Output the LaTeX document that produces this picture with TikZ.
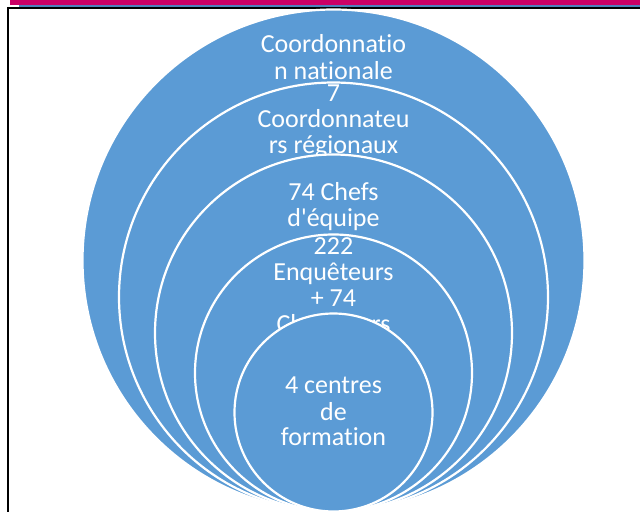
\documentclass[tikz,border=0pt]{standalone}
\usepackage{fontspec}
\newfontfamily\ringfont{Carlito}[Ligatures={NoCommon}]
\definecolor{ringblue}{HTML}{5B9BD5}
\definecolor{barmagenta}{HTML}{CC0066}
\definecolor{barblue}{HTML}{4F81BD}
\begin{document}
\begin{tikzpicture}[x=1pt,y=1pt,
  ringdisc/.style={circle, fill=ringblue, draw=white, line width=2.2pt, inner sep=0pt},
  ringtext/.style={text=white, font=\ringfont\fontsize{26}{26}\selectfont, anchor=base, inner sep=0pt}]
\useasboundingbox (0,0) rectangle (640,512);
\begin{scope}
\clip (0,0) rectangle (640,512);
% page header rules
\fill[barmagenta] (10,512) rectangle (640,506.5);
\fill[barblue] (19,506.5) rectangle (640,505);
\draw[black, line width=1.6pt] (8,504) -- (640,504);
\draw[black, line width=1.6pt] (8,505) -- (8,0);
% stacked discs, all touching at the bottom
\node[ringdisc, minimum size=502pt] (c1) at (333.5,251.5) {};
\node[ringtext] (t1a) at (333.5,459) {Coordonnatio};
\node[ringtext] (t1b) at (333.5,432) {n nationale};
\node[ringdisc, minimum size=429pt] (c2) at (333.5,215) {};
\node[ringtext] (t2a) at (333.5,410) {7};
\node[ringtext] (t2b) at (333.5,384) {Coordonnateu};
\node[ringtext] (t2c) at (333.5,358) {rs régionaux};
\node[ringdisc, minimum size=357pt] (c3) at (333.5,179) {};
\node[ringtext] (t3a) at (333.5,311) {74 Chefs};
\node[ringtext] (t3b) at (333.5,285) {d'équipe};
\node[ringdisc, minimum size=277pt] (c4) at (333.5,139) {};
\node[ringtext] (t4a) at (333.5,257) {222};
\node[ringtext] (t4b) at (333.5,231) {Enquêteurs};
\node[ringtext] (t4c) at (333.5,205) {+ 74};
\node[ringtext] (t4d) at (333.5,179) {Chauffeurs};
\node[ringdisc, minimum size=198pt] (c5) at (333.5,99.5) {};
\node[ringtext] (t5a) at (333.5,119) {4 centres};
\node[ringtext] (t5b) at (333.5,92) {de};
\node[ringtext] (t5c) at (333.5,67) {formation};
\end{scope}
\end{tikzpicture}
\end{document}
